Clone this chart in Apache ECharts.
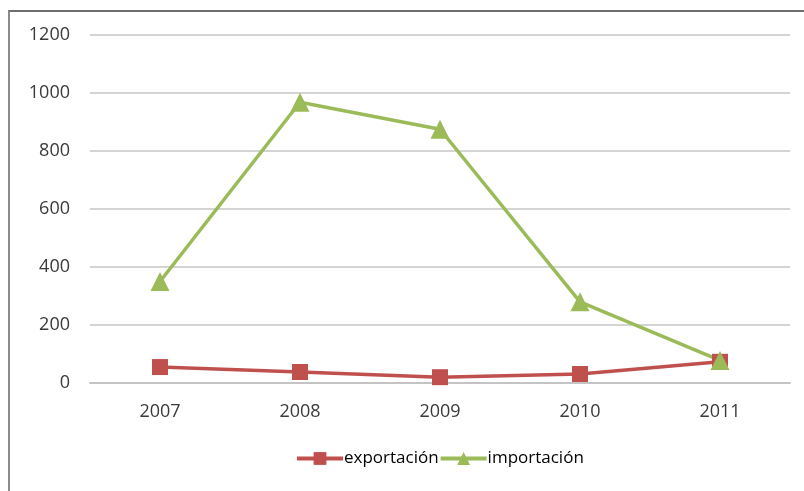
<!DOCTYPE html>
<html>
	<head>
		<meta charset="UTF-8">
		<title></title>
		<style>
			* {
				margin: 0;
				padding: 0;
			}
			html,
			body {
				width: 100%;
				height: 100%;
				overflow: hidden;
				background-color: #fff;
			}
			#frame {
				position: absolute;
				left: 8px;
				top: 10px;
				right: 0;
				bottom: 0;
				border-top: 2px solid #6e6e6e;
				border-left: 2px solid #8a8a8a;
			}
			#chart {
				position: absolute;
				left: 0;
				top: 0;
				width: 804px;
				height: 491px;
			}
		</style>
	</head>
	<body>
		<div id="frame"></div>
		<div id="chart"></div>
	</body>
	<script type="text/javascript" src="https://cdn.jsdelivr.net/npm/echarts@6/dist/echarts.min.js"></script>
	<script>
		// categorias y valores
		var years = ['2007', '2008', '2009', '2010', '2011'];
		var exportacion = [55, 38, 20, 31, 73];
		var importacion = [350, 968, 875, 280, 78];
		var yTicks = [0, 200, 400, 600, 800, 1000, 1200];

		var font = '"Open Sans", "Liberation Sans", sans-serif';
		var chart = echarts.init(document.getElementById('chart'));
		var option = {
			backgroundColor: 'transparent',
			animation: false,
			grid: {
				left: 90,
				right: 14,
				top: 35,
				bottom: 108
			},
			legend: {
				top: 450,
				left: 295,
				padding: 0,
				itemGap: 0,
				itemWidth: 46,
				itemHeight: 16,
				lineStyle: {
					width: 4
				},
				textStyle: {
					fontFamily: font,
					fontSize: 17,
					color: '#000',
					padding: [0, 0, 0, -4]
				},
				data: ['exportación', 'importación']
			},
			xAxis: {
				type: 'category',
				data: years,
				axisLine: {
					lineStyle: {
						color: '#c4c4c4',
						width: 2
					}
				},
				axisTick: {
					show: false
				},
				axisLabel: {
					margin: 20,
					color: '#3a3a3a',
					fontFamily: font,
					fontSize: 18
				}
			},
			yAxis: {
				type: 'value',
				min: yTicks[0],
				max: yTicks[yTicks.length - 1],
				interval: 200,
				axisLine: {
					show: false
				},
				axisTick: {
					show: false
				},
				axisLabel: {
					margin: 20,
					color: '#3a3a3a',
					fontFamily: font,
					fontSize: 18,
					formatter: function(v) {
						return String(v);
					}
				},
				splitLine: {
					lineStyle: {
						color: '#d4d4d4',
						width: 2
					}
				}
			},
			series: [{
					name: 'exportación',
					type: 'line',
					data: exportacion,
					symbol: 'rect',
					symbolSize: 16,
					color: '#c0504d',
					lineStyle: {
						color: '#c0504d',
						width: 3.5
					},
					itemStyle: {
						color: '#c0504d'
					}
				},
				{
					name: 'importación',
					type: 'line',
					data: importacion,
					symbol: 'triangle',
					symbolSize: 19,
					color: '#9bbb59',
					lineStyle: {
						color: '#9bbb59',
						width: 3.5
					},
					itemStyle: {
						color: '#9bbb59'
					}
				}
			]
		};
		chart.setOption(option);
	</script>
</html>
